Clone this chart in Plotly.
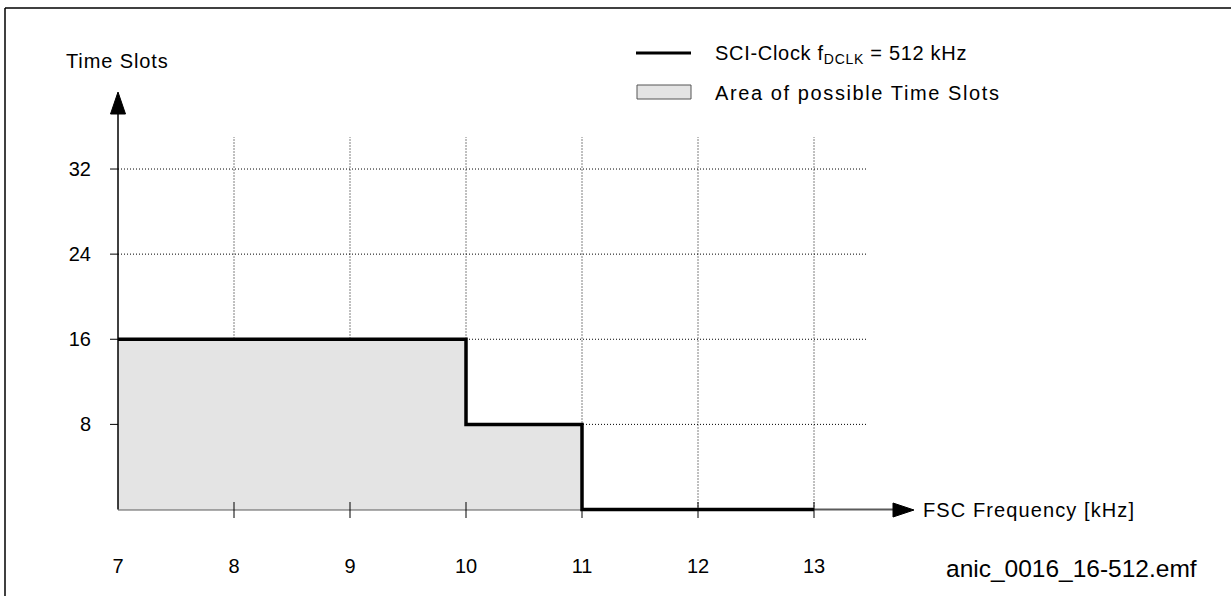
import plotly.graph_objects as go

# ---- data ----
fsc_khz = [7, 10, 11, 13]          # step start points (FSC frequency, kHz)
time_slots = [16, 8, 0, 0]         # time slots at each step (SCI clock 512 kHz)
x_tick_vals = [7, 8, 9, 10, 11, 12, 13]
x_tick_text = ["7", "8", "9", "10", "11", "12", "13"]
y_tick_vals = [8, 16, 24, 32]
y_tick_text = ["8", "16", "24", "32"]

W, H = 1231, 596
X0PIX, XSCALE = 118, 116.0      # pixel of x=7, pixels per kHz
Y0PIX, YSCALE = 509.5, 10.64    # pixel of y=0, pixels per slot

def xd(p):  # pixel -> data x
    return 7 + (p - X0PIX) / XSCALE

def yd(p):  # pixel -> data y
    return (Y0PIX - p) / YSCALE

def px(p):
    return p / W

def py(p):
    return 1 - p / H

FONT = "Liberation Sans, Arial, sans-serif"

def ls(t, s):
    return f"<span style='letter-spacing:{s}px'>{t}</span>"

fig = go.Figure()

# filled area of possible time slots
fig.add_trace(go.Scatter(x=fsc_khz, y=time_slots, mode="lines", line_shape="hv",
                         fill="tozeroy", fillcolor="#e4e4e4",
                         line=dict(width=0, color="rgba(0,0,0,0)"),
                         hoverinfo="skip", showlegend=False))

shapes = []
grid_top = yd(137)
grid_right = xd(866)
# vertical dotted grid
for v in x_tick_vals[1:]:
    shapes.append(dict(type="line", xref="x", yref="y", x0=v, x1=v, y0=0, y1=grid_top,
                       line=dict(color="black", width=1, dash="1px,2px"), layer="below"))
# horizontal dotted grid
for v in y_tick_vals:
    shapes.append(dict(type="line", xref="x", yref="y", x0=7, x1=grid_right, y0=v, y1=v,
                       line=dict(color="black", width=1, dash="1px,2px"), layer="below"))

# x axis line (gray) and y axis line (black)
shapes.append(dict(type="line", xref="x", yref="y", x0=7, x1=xd(895), y0=0, y1=0,
                   line=dict(color="#5a5a5a", width=2), layer="below"))
shapes.append(dict(type="line", xref="x", yref="y", x0=7, x1=7, y0=0, y1=yd(112),
                   line=dict(color="black", width=1.5)))
# tick marks
for v in x_tick_vals[1:]:
    shapes.append(dict(type="line", xref="x", yref="y", x0=v, x1=v, y0=yd(502), y1=yd(518),
                       line=dict(color="black", width=1)))
for v in y_tick_vals:
    shapes.append(dict(type="line", xref="x", yref="y", x0=xd(110), x1=7, y0=v, y1=v,
                       line=dict(color="black", width=1)))
# arrowheads
shapes.append(dict(type="path", xref="paper", yref="paper",
                   path=f"M {px(110.5)} {py(114)} L {px(118)} {py(92)} L {px(125.5)} {py(114)} Z",
                   fillcolor="black", line=dict(color="black", width=1)))
shapes.append(dict(type="path", xref="paper", yref="paper",
                   path=f"M {px(893)} {py(503)} L {px(914)} {py(510)} L {px(893)} {py(517)} Z",
                   fillcolor="black", line=dict(color="black", width=1)))
# outer frame (top and left edges)
shapes.append(dict(type="line", xref="paper", yref="paper", x0=px(5), x1=1, y0=py(8), y1=py(8),
                   line=dict(color="black", width=1.5)))
shapes.append(dict(type="line", xref="paper", yref="paper", x0=px(5), x1=px(5), y0=py(8), y1=0,
                   line=dict(color="black", width=1.5)))
# legend symbols
shapes.append(dict(type="line", xref="paper", yref="paper", x0=px(636), x1=px(691), y0=py(53), y1=py(53),
                   line=dict(color="black", width=3)))
shapes.append(dict(type="rect", xref="paper", yref="paper", x0=px(637), x1=px(691), y0=py(99), y1=py(85),
                   fillcolor="#e4e4e4", line=dict(color="#555555", width=1)))

# step line (SCI clock 512 kHz)
fig.add_trace(go.Scatter(x=fsc_khz, y=time_slots, mode="lines", line_shape="hv",
                         line=dict(color="black", width=3.5),
                         hoverinfo="skip", showlegend=False))

annotations = [
    dict(text=ls("Time Slots", 0.9), x=px(64), y=py(61), xanchor="left", yanchor="middle",
         font=dict(size=20)),
    dict(text=ls("SCI-Clock f<sub>DCLK</sub> = 512 kHz", 0.7), x=px(713), y=py(54),
         xanchor="left", yanchor="middle", font=dict(size=20)),
    dict(text=ls("Area of possible Time Slots", 1.6), x=px(713), y=py(93),
         xanchor="left", yanchor="middle", font=dict(size=20)),
    dict(text=ls("FSC Frequency [kHz]", 1.1), x=px(921), y=py(510),
         xanchor="left", yanchor="middle", font=dict(size=20)),
    dict(text="anic_0016_16-512.emf", x=px(944), y=py(568), xanchor="left", yanchor="middle",
         font=dict(size=24.5)),
]
for a in annotations:
    a.update(xref="paper", yref="paper", showarrow=False)

fig.update_layout(
    width=W, height=H, autosize=False,
    margin=dict(l=0, r=0, t=0, b=0, pad=0),
    paper_bgcolor="white", plot_bgcolor="rgba(0,0,0,0)",
    font=dict(family=FONT, color="black", size=20),
    xaxis=dict(domain=[0, 1], range=[xd(0), xd(W)], showgrid=False, zeroline=False,
               showline=False, ticks="", tickvals=x_tick_vals, ticktext=x_tick_text,
               anchor="free", position=(H - Y0PIX) / H,
               ticklabelstandoff=42, tickfont=dict(size=20, family=FONT)),
    yaxis=dict(domain=[0, 1], range=[yd(H), yd(0)], showgrid=False, zeroline=False,
               showline=False, ticks="", tickvals=y_tick_vals, ticktext=y_tick_text,
               anchor="free", position=X0PIX / W,
               ticklabelstandoff=27, tickfont=dict(size=20, family=FONT)),
    shapes=shapes, annotations=annotations,
)

fig.write_html("out.html", config={"displayModeBar": False, "staticPlot": True},
               post_script="document.body.style.margin='0px';")
